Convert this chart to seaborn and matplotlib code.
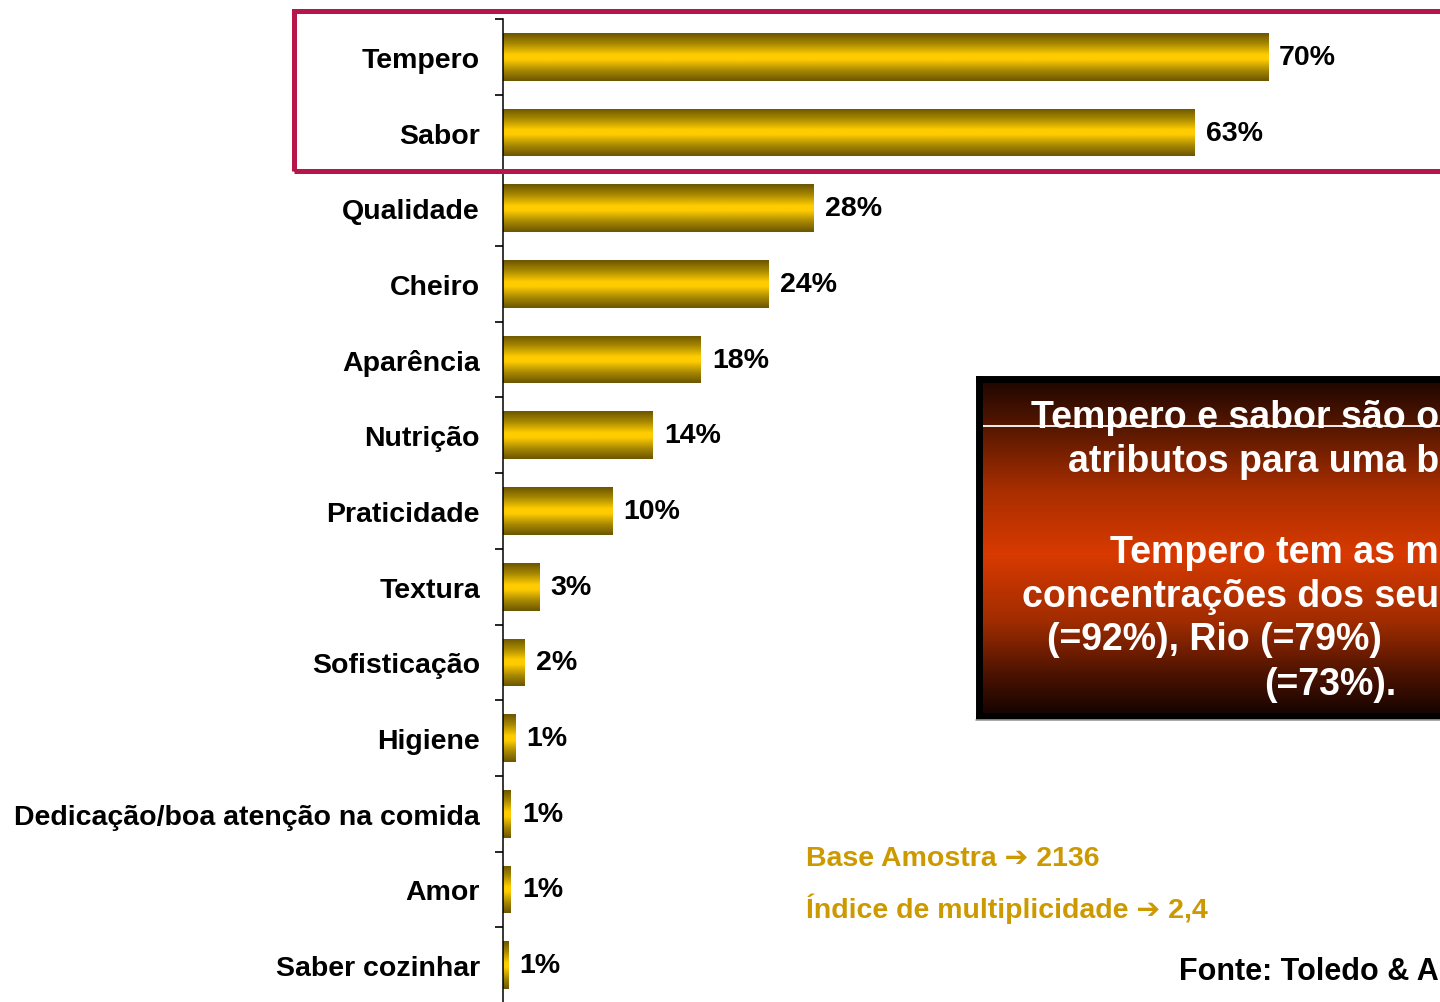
import numpy as np
import pandas as pd
import seaborn as sns
import matplotlib.pyplot as plt
from matplotlib.colors import LinearSegmentedColormap
from matplotlib.patches import Rectangle

# data
categories = ["Tempero", "Sabor", "Qualidade", "Cheiro", "Aparência", "Nutrição",
              "Praticidade", "Textura", "Sofisticação", "Higiene",
              "Dedicação/boa atenção na comida", "Amor", "Saber cozinhar"]
values = [70, 63.3, 28.4, 24.3, 18.1, 13.7, 10.0, 3.3, 2.0, 1.1, 0.7, 0.7, 0.5]
pct_labels = ["70%", "63%", "28%", "24%", "18%", "14%", "10%", "3%", "2%",
              "1%", "1%", "1%", "1%"]

# the comment box runs off the slide edge; only the visible part is kept
box_lines = ["Tempero e sabor são o",
             "atributos para uma b",
             "Tempero tem as m",
             "concentrações dos seu",
             "(=92%), Rio (=79%)",
             "(=73%)."]
base_txt = "Base Amostra \u2794 2136"
indice_txt = "Índice de multiplicidade \u2794 2,4"
fonte_txt = "Fonte: Toledo & A"

df = pd.DataFrame({"atributo": categories, "pct": values})

W, H = 1440, 1003
sns.set_style("white")
plt.rcParams["font.family"] = ["Liberation Sans", "DejaVu Sans"]

fig = plt.figure(figsize=(W / 100, H / 100), dpi=100)
fig.patch.set_facecolor("white")

# main axis: x scale ~10.93 px per percent, rows ~75.7 px
ax = fig.add_axes([503 / W, -1 / H, (W - 503) / W, 984 / H])
sns.barplot(data=df, x="pct", y="atributo", orient="h", color="#FFCC00",
            width=0.63, ax=ax, saturation=1)
xmax = (W - 503) / 10.93

# golden cylinder shading on every bar
gold = LinearSegmentedColormap.from_list(
    "gold", [(0, "#6B5500"), (0.22, "#A88800"), (0.45, "#FFCC00"),
             (0.55, "#FFCC00"), (0.78, "#A88800"), (1, "#6B5500")])
grad = np.linspace(0, 1, 256).reshape(-1, 1)
for p in ax.patches:
    x0, y0 = p.get_x(), p.get_y()
    w, h = p.get_width(), p.get_height()
    im = ax.imshow(grad, cmap=gold, aspect="auto", extent=(x0, x0 + w, y0 + h, y0),
                   zorder=p.get_zorder() + 0.1)
    im.set_clip_path(p)
ax.set_xlim(0, xmax)
ax.set_ylim(len(categories) - 0.5, -0.5)
ax.set_aspect("auto")

for i, (v, lab) in enumerate(zip(values, pct_labels)):
    ax.annotate(lab, xy=(v, i), xytext=(8, 0), textcoords="offset points",
                ha="left", va="center", fontsize=20.5, fontweight="bold", color="black")

ax.set_xlabel("")
ax.set_ylabel("")
ax.set_xticks([])
ax.set_yticks(range(len(categories)))
ax.set_yticklabels(categories, fontsize=20.5, fontweight="bold")
ax.set_yticks(np.arange(-0.5, len(categories), 1), minor=True)
ax.tick_params(axis="y", which="major", left=False, length=0, pad=16.5, labelcolor="black")
ax.tick_params(axis="y", which="minor", left=True, length=5.8, width=1.2,
               direction="out", color="black")
for s in ["top", "right", "bottom"]:
    ax.spines[s].set_visible(False)
ax.spines["left"].set_color("black")
ax.spines["left"].set_linewidth(1.1)
ax.patch.set_alpha(0)


def fx(x):
    return x / W


def fy(y):
    return 1 - y / H


# crimson frame around the top two bars
fig.add_artist(Rectangle((fx(293.5), fy(171.5)), fx(1480) - fx(293.5), fy(12) - fy(171.5),
                         transform=fig.transFigure, fill=False, edgecolor="#B5174A",
                         linewidth=3.6, zorder=10))

# dark red comment box
bx = fig.add_axes([fx(978.5), fy(716.5), fx(1500) - fx(978.5), fy(379.5) - fy(716.5)])
fire = LinearSegmentedColormap.from_list(
    "fire", [(0, "#1E0600"), (0.15, "#5A1800"), (0.33, "#A82E00"), (0.52, "#D83A00"),
             (0.72, "#A02C00"), (0.88, "#4A1200"), (1, "#140300")])
bx.imshow(grad, cmap=fire, aspect="auto", extent=(0, 1, 0, 1))
bx.axhline((716.5 - 427) / 337, color="white", lw=1.3)
bx.set_xlim(0, 1)
bx.set_ylim(0, 1)
bx.set_xticks([])
bx.set_yticks([])
for s in bx.spines.values():
    s.set_color("black")
    s.set_linewidth(5)
# thin grey shadow under the box
fig.add_artist(plt.Line2D([fx(976), fx(1440)], [fy(721), fy(721)], color="#9A9A9A",
                          lw=1.2, transform=fig.transFigure))

# lines cut by the edge are anchored on the right, the others on the left
box_pos = [(1439, 428, "right"), (1439, 472, "right"), (1439, 563, "right"),
           (1439, 607, "right"), (1047, 650, "left"), (1264, 695, "left")]
for txt, (x, y, ha) in zip(box_lines, box_pos):
    fig.text(fx(x), fy(y), txt, ha=ha, va="baseline", color="white",
             fontsize=27, fontweight="bold", zorder=20)

fig.text(fx(806), fy(866), base_txt, ha="left", va="baseline", color="#CC9A00",
         fontsize=20.5, fontweight="bold")
fig.text(fx(806), fy(918), indice_txt, ha="left", va="baseline", color="#CC9A00",
         fontsize=20.5, fontweight="bold")
fig.text(fx(1439), fy(980), fonte_txt, ha="right", va="baseline", color="black",
         fontsize=22, fontweight="bold")

fig.savefig("out.png", dpi=100)
